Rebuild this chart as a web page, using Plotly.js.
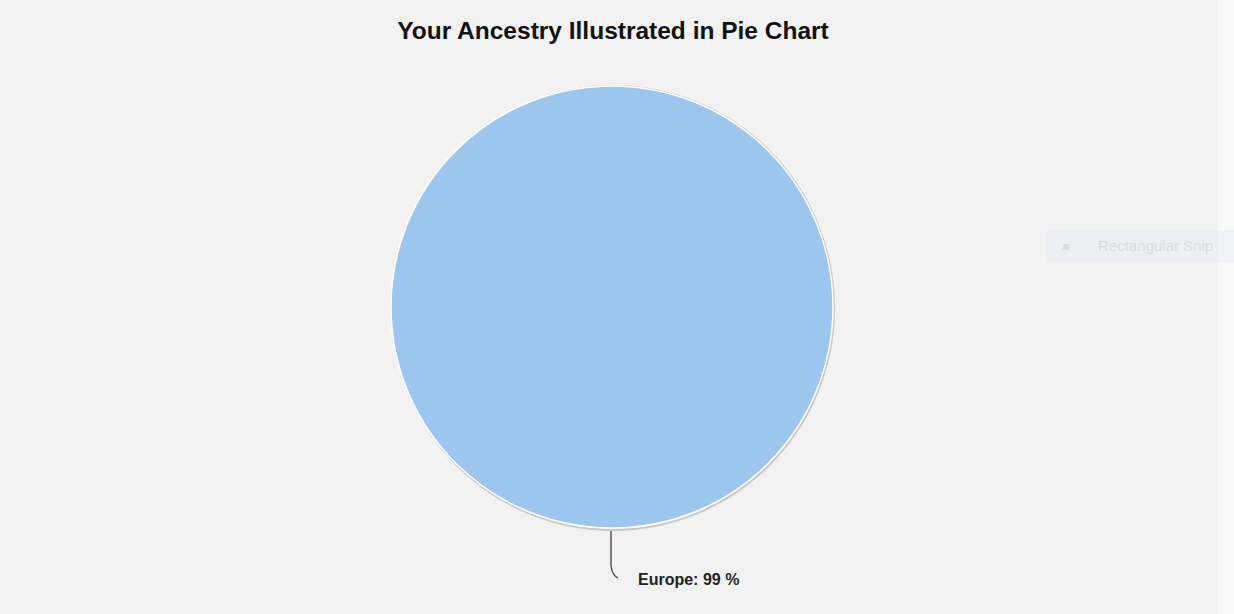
<!DOCTYPE html>
<html>
<head>
<meta charset="utf-8">
<script src="https://cdn.plot.ly/plotly-3.0.1.min.js"></script>
<style>
  html, body { margin: 0; padding: 0; background: #f2f2f2; }
  #chart { width: 1234px; height: 614px; }
</style>
</head>
<body>
<div id="chart"></div>
<script>
// ---- data ----
const regions = ["Europe"];
const shares = [99];
const sliceColors = ["#9dc6ef"];
const chartTitle = "Your Ancestry Illustrated in Pie Chart";

// ---- helpers (pixel -> paper) ----
const W = 1234, H = 614;
const px = v => v / W;
const py = v => 1 - v / H;

const labelText = regions[0] + ": " + shares[0] + " %";

const trace = {
  type: "pie",
  labels: regions,
  values: shares,
  marker: { colors: sliceColors, line: { color: "#ffffff", width: 1.5 } },
  textinfo: "none",
  hoverinfo: "label+value",
  sort: false,
  direction: "clockwise",
  rotation: 0,
  showlegend: false,
  domain: { x: [px(391), px(833)], y: [py(529), py(85)] }
};

const layout = {
  width: W, height: H,
  margin: { l: 0, r: 0, t: 0, b: 0 },
  paper_bgcolor: "#f2f2f2",
  plot_bgcolor: "#f2f2f2",
  font: { family: "Liberation Sans, Arial, sans-serif" },
  title: {
    text: "<b>" + chartTitle + "</b>",
    font: { family: "Liberation Sans, Arial, sans-serif", size: 24.5, color: "#111111" },
    x: px(613), xanchor: "center",
    y: py(30), yanchor: "middle",
    xref: "paper", yref: "paper"
  },
  shapes: [
    // lighter strip on the right edge
    { type: "rect", xref: "paper", yref: "paper", x0: px(1218), x1: 1, y0: 0, y1: 1,
      fillcolor: "#fafafa", line: { width: 0 }, layer: "below" },
    // faint overlay box
    { type: "rect", xref: "paper", yref: "paper", x0: px(1046), x1: 1, y0: py(262), y1: py(230),
      fillcolor: "#eaf0f6", line: { width: 0 }, layer: "below", opacity: 0.7 },
    // soft shadow edge of the pie
    { type: "circle", xref: "paper", yref: "paper",
      x0: px(392), x1: px(834), y0: py(530), y1: py(86),
      line: { color: "rgba(120,120,120,0.35)", width: 2 }, fillcolor: "rgba(0,0,0,0)", layer: "below" },
    // leader line
    { type: "path", xref: "paper", yref: "paper",
      path: "M " + px(611) + " " + py(531) +
            " L " + px(611) + " " + py(566) +
            " Q " + px(612) + " " + py(575) + " " + px(618) + " " + py(578),
      line: { color: "#333333", width: 1.2 } }
  ],
  annotations: [
    { xref: "paper", yref: "paper", x: px(636), y: py(579), xanchor: "left", yanchor: "middle",
      text: "<b>" + labelText + "</b>", showarrow: false,
      font: { family: "Liberation Sans, Arial, sans-serif", size: 16, color: "#222222" } },
    { xref: "paper", yref: "paper", x: px(1060), y: py(246), xanchor: "left", yanchor: "middle",
      text: "▪", showarrow: false,
      font: { family: "DejaVu Sans, sans-serif", size: 12, color: "#d6dde5" } },
    { xref: "paper", yref: "paper", x: px(1096), y: py(246), xanchor: "left", yanchor: "middle",
      text: "Rectangular Snip", showarrow: false,
      font: { family: "Liberation Sans, Arial, sans-serif", size: 15, color: "#d6dde5" } }
  ]
};

Plotly.newPlot("chart", [trace], layout, { displayModeBar: false, staticPlot: false });
</script>
</body>
</html>
